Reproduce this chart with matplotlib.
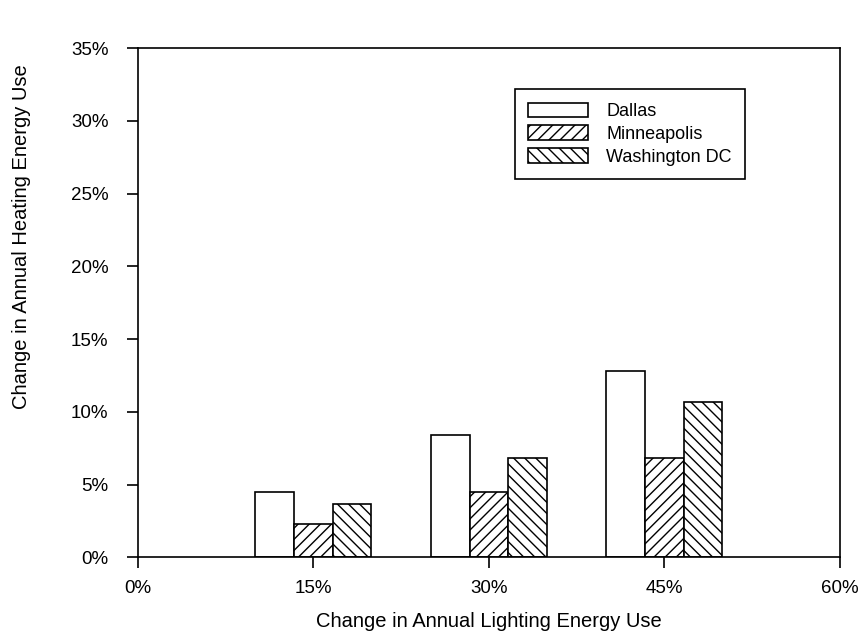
import matplotlib
matplotlib.use("Agg")
import matplotlib.pyplot as plt
import numpy as np
from matplotlib.ticker import FuncFormatter

plt.rcParams["font.family"] = ["Liberation Sans", "DejaVu Sans"]
plt.rcParams["hatch.linewidth"] = 1.0

# data (percent)
lighting_change = [15, 30, 45]
dallas = [4.5, 8.4, 12.8]
minneapolis = [2.27, 4.5, 6.85]
washington = [3.66, 6.85, 10.67]
city_names = ["Dallas", "Minneapolis", "Washington DC"]

x_ticks = [0, 15, 30, 45, 60]
y_ticks = [0, 5, 10, 15, 20, 25, 30, 35]

bar_w = 3.3

fig = plt.figure(figsize=(8.66, 6.41), dpi=100)
ax = fig.add_axes([0.159, 0.1306, 0.811, 0.7944])

x = np.array(lighting_change, dtype=float)
ax.bar(x - bar_w, dallas, width=bar_w, facecolor="white", edgecolor="black",
       linewidth=1.2, label=city_names[0])
ax.bar(x, minneapolis, width=bar_w, facecolor="white", edgecolor="black",
       linewidth=1.2, hatch="///", label=city_names[1])
ax.bar(x + bar_w, washington, width=bar_w, facecolor="white", edgecolor="black",
       linewidth=1.2, hatch="\\\\\\", label=city_names[2])

ax.set_xlim(0, 60)
ax.set_ylim(0, 35)
ax.set_xticks(x_ticks)
ax.set_yticks(y_ticks)
pct = FuncFormatter(lambda v, p: f"{v:.0f}%")
ax.xaxis.set_major_formatter(pct)
ax.yaxis.set_major_formatter(pct)

ax.tick_params(axis="both", direction="out", length=8, width=1.2, labelsize=13.5)
ax.tick_params(axis="x", pad=8)
ax.tick_params(axis="y", pad=13)
for s in ax.spines.values():
    s.set_linewidth(1.2)

ax.set_xlabel("Change in Annual Lighting Energy Use", fontsize=14.5, labelpad=11)
ax.set_ylabel("Change in Annual Heating Energy Use", fontsize=14.5)
ax.yaxis.set_label_coords(-0.152, 0.629)

leg = ax.legend(loc="upper center", bbox_to_anchor=(0.701, 0.9195), borderaxespad=0,
                fontsize=13, handlelength=3.3, handleheight=0.85, fancybox=False,
                edgecolor="black", framealpha=1, borderpad=0.75, labelspacing=0.3,
                handletextpad=1.0)
leg.get_frame().set_linewidth(1.2)

fig.savefig("out.png", dpi=100)
